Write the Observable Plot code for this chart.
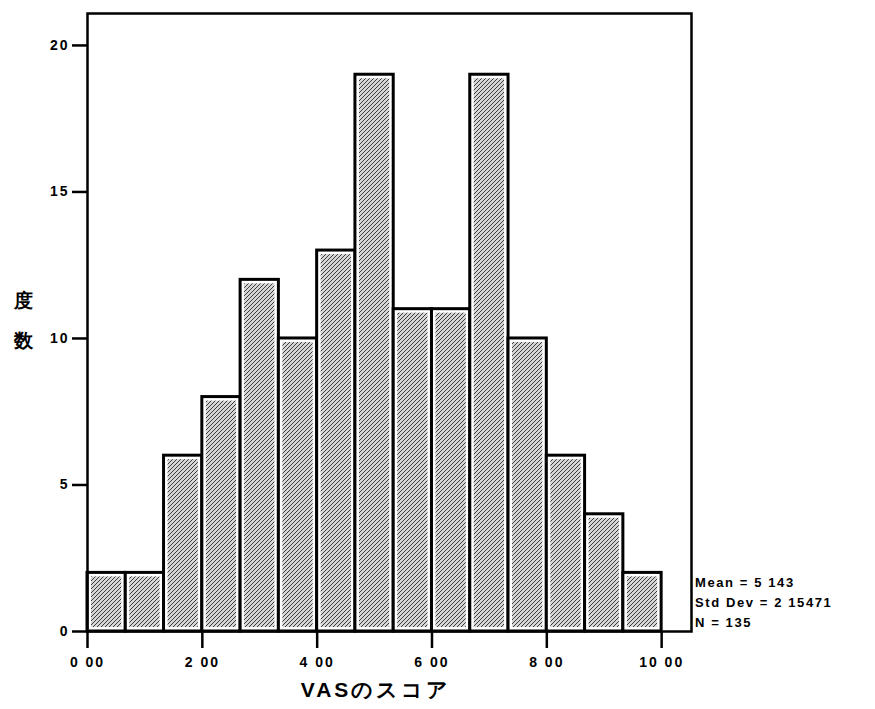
<!DOCTYPE html>
<html>
<head>
<meta charset="utf-8">
<script src="https://cdn.jsdelivr.net/npm/d3@7"></script>
<script src="https://cdn.jsdelivr.net/npm/@observablehq/plot@0.6"></script>
<style>
  html, body { margin: 0; padding: 0; background: #fff; overflow: hidden; }
  #chart svg text { font-family: "Liberation Sans", Arial, sans-serif; font-weight: bold; fill: #000; }
  #chart svg g[aria-label="x-axis tick"] path, #chart svg g[aria-label="y-axis tick"] path { stroke-width: 2.5px; }
</style>
</head>
<body>
<div id="chart"></div>
<script>
// Data
const binStarts = [0, 0.6667, 1.3333, 2, 2.6667, 3.3333, 4, 4.6667, 5.3333, 6, 6.6667, 7.3333, 8, 8.6667, 9.3333];
const binWidth = 0.6667;
const counts = [2, 2, 6, 8, 12, 10, 13, 19, 11, 11, 19, 10, 6, 4, 2];
const xTicks = [0, 2, 4, 6, 8, 10];
const xTickLabels = ["0 00", "2 00", "4 00", "6 00", "8 00", "10 00"];
const yTicks = [0, 5, 10, 15, 20];
const yLabelChars = ["度", "数"];
const xLabel = "VASのスコア";
const statsLines = ["Mean = 5 143", "Std Dev = 2 15471", "N = 135"];

const bins = binStarts.map((s, i) => ({x1: s, x2: s + binWidth, y: counts[i]}));

const chart = Plot.plot({
  width: 875,
  height: 709,
  marginLeft: 87,
  marginRight: 184,
  marginTop: 13,
  marginBottom: 78,
  x: {domain: [0, 10.52]},
  y: {domain: [0, 21.09]},
  marks: [
    Plot.rectY(bins, {x1: "x1", x2: "x2", y: "y", fill: "white", stroke: "black", strokeWidth: 3}),
    Plot.rectY(bins, {x1: "x1", x2: "x2", y: "y", fill: "url(#hatch)", inset: 4}),
    Plot.frame({stroke: "black", strokeWidth: 2.5}),
    Plot.axisX({ticks: xTicks, tickFormat: (d) => xTickLabels[xTicks.indexOf(d)], tickSize: 17, tickPadding: 9, strokeWidth: 2.5, fontSize: 14, label: null}),
    Plot.axisY({ticks: yTicks, tickSize: 15, tickPadding: 3, strokeWidth: 2.5, fontSize: 14, label: null})
  ]
});

const svg = d3.select(chart);
const defs = svg.insert("defs", ":first-child");
const pat = defs.append("pattern").attr("id", "hatch").attr("patternUnits", "userSpaceOnUse").attr("width", 4).attr("height", 4);
pat.append("rect").attr("width", 4).attr("height", 4).attr("fill", "#d6d6d6");
pat.append("path").attr("d", "M-1,1 L1,-1 M0,4 L4,0 M3,5 L5,3").attr("stroke", "#3a3a3a").attr("stroke-width", 1);

// letter spacing for tick labels
svg.selectAll("g[aria-label='x-axis tick label'] text, g[aria-label='y-axis tick label'] text").style("letter-spacing", "2px");

// y-label chars stacked vertically
svg.append("g").attr("text-anchor", "middle").selectAll("text").data(yLabelChars).join("text")
  .attr("x", 23).attr("y", (d, i) => 307 + i * 40)
  .style("font-size", "19px").text(d => d);

// x-axis label
svg.append("text").attr("x", 376).attr("y", 697).attr("text-anchor", "middle")
  .style("font-size", "21px").style("letter-spacing", "3px").text(xLabel);

// stats
svg.append("g").attr("text-anchor", "start").selectAll("text").data(statsLines).join("text")
  .attr("x", 695).attr("y", (d, i) => 587 + i * 20)
  .style("font-size", "13px").style("letter-spacing", "1.6px").text(d => d);

document.getElementById("chart").appendChild(chart);
</script>
</body>
</html>
